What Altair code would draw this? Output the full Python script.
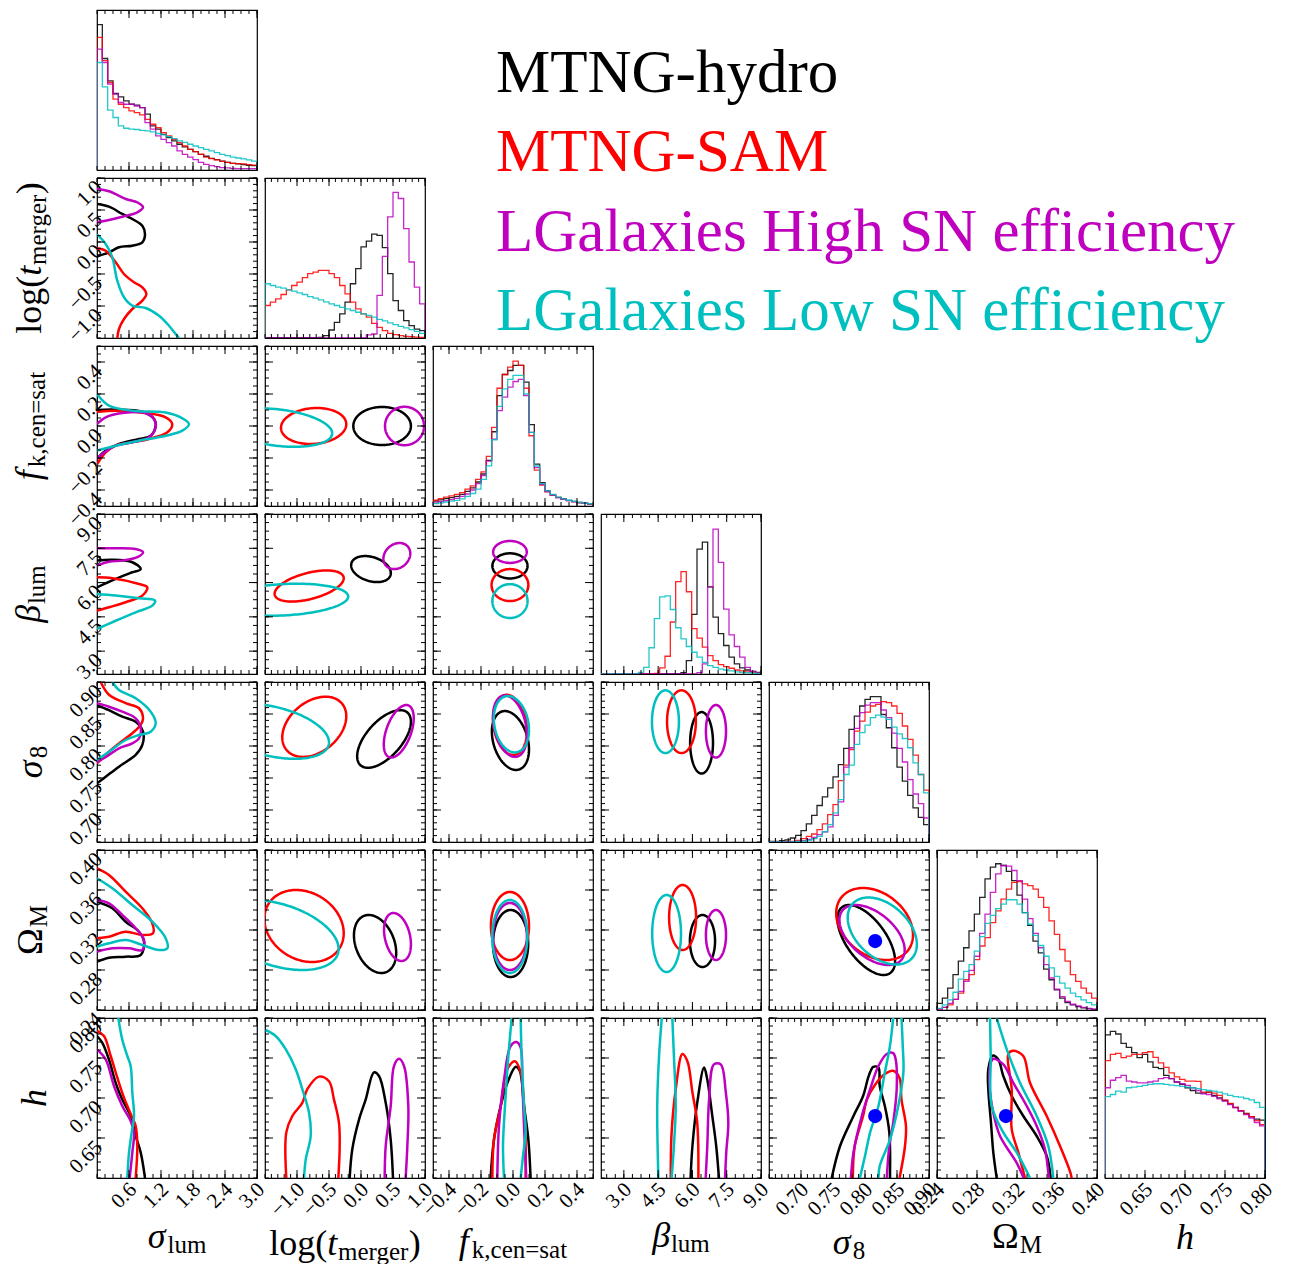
import numpy as np
import pandas as pd
import altair as alt

SERIF = "Liberation Serif"
SERIES = ["MTNG-hydro", "MTNG-SAM", "LGalaxies High SN efficiency", "LGalaxies Low SN efficiency"]
COLORS = ["#000000", "#ff0000", "#bf00bf", "#00bfbf"]

# parameter order: sigma_lum, log(t_merger), f_k,cen=sat, beta_lum, sigma_8, Omega_M, h
RANGES = [[0.0, 3.0], [-1.5, 1.0], [-0.5, 0.5], [2.0, 9.0], [0.65, 0.90], [0.24, 0.40], [0.60, 0.80]]
MAJOR = [[0.6, 1.2, 1.8, 2.4, 3.0], [-1.0, -0.5, 0.0, 0.5, 1.0], [-0.4, -0.2, 0.0, 0.2, 0.4],
         [3.0, 4.5, 6.0, 7.5, 9.0], [0.70, 0.75, 0.80, 0.85, 0.90], [0.24, 0.28, 0.32, 0.36, 0.40],
         [0.65, 0.70, 0.75, 0.80]]
MINOR_STEP = [0.15, 0.1, 0.05, 0.375, 0.01, 0.01, 0.01]
FMT = [".1f", ".1f", ".1f", ".1f", ".2f", ".2f", ".2f"]

TITLE_PIECES = [
    [("σ", "main", "italic"), ("lum", "sub", "normal")],
    [("log(", "main", "normal"), ("t", "main", "italic"), ("merger", "sub", "normal"), (")", "main", "normal")],
    [("f", "main", "italic"), ("k,cen=sat", "sub", "normal")],
    [("β", "main", "italic"), ("lum", "sub", "normal")],
    [("σ", "main", "italic"), ("8", "sub", "normal")],
    [("Ω", "main", "normal"), ("M", "sub", "normal")],
    [("h", "main", "italic")],
]

# ---- 1D marginal histograms (30 bins, height as fraction of panel) ----
# order of each list: MTNG-hydro, MTNG-SAM, LGalaxies High, LGalaxies Low
HIST_SIGMA_LUM = [
    [0.908, 0.697, 0.557, 0.478, 0.457, 0.432, 0.411, 0.405, 0.39, 0.349, 0.276, 0.255, 0.223, 0.203, 0.182, 0.161, 0.144, 0.129, 0.115, 0.098, 0.086, 0.073, 0.065, 0.056, 0.048, 0.042, 0.038, 0.033, 0.029, 0.027],
    [0.829, 0.683, 0.547, 0.443, 0.411, 0.39, 0.37, 0.359, 0.344, 0.317, 0.286, 0.265, 0.234, 0.213, 0.192, 0.171, 0.15, 0.129, 0.115, 0.098, 0.081, 0.071, 0.063, 0.054, 0.048, 0.042, 0.04, 0.038, 0.033, 0.031],
    [0.756, 0.672, 0.537, 0.474, 0.422, 0.411, 0.411, 0.4, 0.39, 0.296, 0.255, 0.213, 0.192, 0.171, 0.15, 0.119, 0.098, 0.081, 0.065, 0.048, 0.035, 0.027, 0.021, 0.015, 0.013, 0.01, 0.008, 0.008, 0.008, 0.008],
    [0.672, 0.52, 0.374, 0.328, 0.276, 0.261, 0.255, 0.253, 0.248, 0.244, 0.238, 0.228, 0.219, 0.209, 0.196, 0.182, 0.173, 0.161, 0.15, 0.14, 0.129, 0.119, 0.109, 0.098, 0.09, 0.081, 0.075, 0.069, 0.063, 0.056],
]
HIST_LOG_TMERGER = [
    [0.002, 0.002, 0.002, 0.002, 0.002, 0.002, 0.002, 0.002, 0.002, 0.002, 0.004, 0.015, 0.05, 0.098, 0.151, 0.224, 0.339, 0.433, 0.569, 0.605, 0.649, 0.642, 0.565, 0.402, 0.234, 0.172, 0.109, 0.077, 0.056, 0.046],
    [0.203, 0.224, 0.245, 0.272, 0.301, 0.328, 0.349, 0.377, 0.402, 0.412, 0.423, 0.423, 0.402, 0.377, 0.328, 0.276, 0.224, 0.182, 0.151, 0.13, 0.092, 0.067, 0.046, 0.029, 0.021, 0.015, 0.01, 0.008, 0.006, 0.004],
    [0.0, 0.0, 0.0, 0.0, 0.0, 0.0, 0.0, 0.0, 0.0, 0.0, 0.0, 0.0, 0.0, 0.0, 0.0, 0.0, 0.0, 0.0, 0.0, 0.02, 0.025, 0.266, 0.51, 0.757, 0.91, 0.872, 0.684, 0.475, 0.318, 0.213],
    [0.339, 0.328, 0.318, 0.312, 0.301, 0.293, 0.282, 0.272, 0.259, 0.249, 0.238, 0.226, 0.213, 0.203, 0.192, 0.182, 0.172, 0.161, 0.151, 0.141, 0.13, 0.117, 0.107, 0.094, 0.084, 0.073, 0.063, 0.052, 0.042, 0.029],
]
HIST_FK = [
    [0.03, 0.038, 0.046, 0.052, 0.06, 0.073, 0.092, 0.113, 0.15, 0.2, 0.285, 0.464, 0.69, 0.822, 0.847, 0.879, 0.879, 0.774, 0.508, 0.262, 0.146, 0.095, 0.07, 0.054, 0.044, 0.035, 0.028, 0.022, 0.018, 0.012],
    [0.036, 0.046, 0.056, 0.063, 0.073, 0.084, 0.105, 0.126, 0.167, 0.213, 0.31, 0.492, 0.736, 0.822, 0.868, 0.906, 0.879, 0.736, 0.439, 0.224, 0.13, 0.088, 0.067, 0.052, 0.042, 0.033, 0.027, 0.021, 0.017, 0.01],
    [0.02, 0.027, 0.033, 0.04, 0.048, 0.06, 0.075, 0.1, 0.14, 0.19, 0.28, 0.418, 0.596, 0.68, 0.743, 0.778, 0.791, 0.69, 0.46, 0.24, 0.136, 0.09, 0.068, 0.052, 0.042, 0.033, 0.027, 0.021, 0.017, 0.012],
    [0.015, 0.02, 0.025, 0.03, 0.035, 0.045, 0.06, 0.078, 0.105, 0.167, 0.251, 0.414, 0.623, 0.732, 0.791, 0.816, 0.816, 0.7, 0.46, 0.25, 0.14, 0.095, 0.072, 0.056, 0.045, 0.036, 0.029, 0.023, 0.018, 0.014],
]
HIST_BETA_LUM = [
    [0.0, 0.0, 0.0, 0.0, 0.0, 0.0, 0.0, 0.0, 0.0, 0.0, 0.0, 0.0, 0.0, 0.0, 0.0, 0.008, 0.084, 0.373, 0.78, 0.824, 0.545, 0.356, 0.252, 0.178, 0.105, 0.063, 0.038, 0.025, 0.017, 0.01],
    [0.0, 0.0, 0.0, 0.0, 0.0, 0.0, 0.0, 0.0, 0.0, 0.0, 0.004, 0.038, 0.111, 0.325, 0.577, 0.64, 0.514, 0.283, 0.224, 0.168, 0.115, 0.084, 0.059, 0.046, 0.036, 0.025, 0.019, 0.013, 0.01, 0.006],
    [0.0, 0.0, 0.0, 0.0, 0.0, 0.0, 0.0, 0.0, 0.0, 0.0, 0.0, 0.0, 0.0, 0.0, 0.0, 0.0, 0.0, 0.0, 0.008, 0.063, 0.545, 0.906, 0.698, 0.405, 0.245, 0.172, 0.105, 0.042, 0.017, 0.006],
    [0.0, 0.0, 0.0, 0.0, 0.0, 0.0, 0.0, 0.01, 0.042, 0.164, 0.346, 0.482, 0.488, 0.403, 0.289, 0.22, 0.172, 0.136, 0.105, 0.073, 0.052, 0.042, 0.031, 0.025, 0.019, 0.013, 0.01, 0.008, 0.006, 0.004],
]
HIST_SIGMA8 = [
    [0.004, 0.004, 0.008, 0.013, 0.025, 0.042, 0.071, 0.113, 0.167, 0.228, 0.282, 0.338, 0.407, 0.484, 0.585, 0.704, 0.787, 0.85, 0.891, 0.908, 0.908, 0.797, 0.714, 0.589, 0.468, 0.38, 0.292, 0.213, 0.154, 0.109],
    [0.0, 0.0, 0.0, 0.004, 0.004, 0.01, 0.021, 0.035, 0.05, 0.077, 0.113, 0.171, 0.234, 0.384, 0.48, 0.578, 0.693, 0.756, 0.812, 0.85, 0.86, 0.877, 0.871, 0.85, 0.804, 0.725, 0.641, 0.543, 0.422, 0.324],
    [0.0, 0.0, 0.0, 0.0, 0.0, 0.004, 0.008, 0.017, 0.029, 0.046, 0.063, 0.094, 0.167, 0.251, 0.468, 0.589, 0.71, 0.808, 0.855, 0.871, 0.871, 0.825, 0.777, 0.68, 0.585, 0.5, 0.39, 0.3, 0.24, 0.15],
    [0.0, 0.0, 0.0, 0.0, 0.0, 0.004, 0.006, 0.01, 0.021, 0.035, 0.063, 0.109, 0.182, 0.265, 0.422, 0.48, 0.61, 0.683, 0.731, 0.777, 0.793, 0.78, 0.766, 0.718, 0.676, 0.647, 0.589, 0.495, 0.422, 0.307],
]
HIST_OMEGA_M = [
    [0.042, 0.074, 0.137, 0.221, 0.305, 0.389, 0.494, 0.599, 0.704, 0.819, 0.893, 0.914, 0.903, 0.866, 0.809, 0.718, 0.609, 0.529, 0.431, 0.357, 0.256, 0.189, 0.126, 0.074, 0.046, 0.032, 0.021, 0.013, 0.008, 0.004],
    [0.006, 0.017, 0.032, 0.067, 0.105, 0.189, 0.221, 0.315, 0.4, 0.452, 0.546, 0.62, 0.693, 0.756, 0.798, 0.803, 0.788, 0.777, 0.756, 0.704, 0.641, 0.557, 0.473, 0.378, 0.305, 0.221, 0.179, 0.137, 0.105, 0.074],
    [0.004, 0.017, 0.042, 0.067, 0.116, 0.179, 0.248, 0.336, 0.479, 0.599, 0.735, 0.851, 0.903, 0.899, 0.872, 0.809, 0.693, 0.571, 0.479, 0.389, 0.284, 0.2, 0.13, 0.084, 0.053, 0.036, 0.025, 0.017, 0.01, 0.006],
    [0.01, 0.032, 0.063, 0.111, 0.193, 0.242, 0.284, 0.368, 0.458, 0.542, 0.592, 0.634, 0.662, 0.689, 0.689, 0.662, 0.609, 0.536, 0.466, 0.403, 0.336, 0.263, 0.21, 0.168, 0.137, 0.105, 0.084, 0.063, 0.046, 0.032],
]
HIST_H = [
    [0.895, 0.916, 0.9, 0.842, 0.817, 0.783, 0.752, 0.773, 0.726, 0.691, 0.684, 0.642, 0.621, 0.6, 0.585, 0.564, 0.547, 0.531, 0.531, 0.537, 0.516, 0.501, 0.484, 0.463, 0.442, 0.421, 0.404, 0.383, 0.368, 0.362],
    [0.733, 0.773, 0.779, 0.752, 0.762, 0.773, 0.773, 0.783, 0.789, 0.754, 0.72, 0.691, 0.657, 0.632, 0.617, 0.606, 0.606, 0.604, 0.537, 0.537, 0.531, 0.516, 0.488, 0.467, 0.442, 0.421, 0.4, 0.383, 0.358, 0.333],
    [0.564, 0.611, 0.627, 0.642, 0.606, 0.6, 0.594, 0.594, 0.6, 0.606, 0.621, 0.627, 0.621, 0.6, 0.589, 0.579, 0.564, 0.547, 0.526, 0.522, 0.51, 0.495, 0.48, 0.459, 0.438, 0.417, 0.396, 0.375, 0.347, 0.326],
    [0.509, 0.522, 0.543, 0.537, 0.564, 0.568, 0.573, 0.579, 0.585, 0.589, 0.589, 0.585, 0.581, 0.577, 0.573, 0.568, 0.564, 0.558, 0.552, 0.547, 0.543, 0.537, 0.526, 0.516, 0.509, 0.505, 0.497, 0.488, 0.472, 0.442],
]
HISTS = [HIST_SIGMA_LUM, HIST_LOG_TMERGER, HIST_FK, HIST_BETA_LUM, HIST_SIGMA8, HIST_OMEGA_M, HIST_H]

# ---- 2D contours that are close to ellipses: (row, col) -> per series [cx, cy, rx, ry, rho] ----
ELLIPSES = {
    (2, 1): [[0.33, 0.0, 0.45, 0.119, 0.0], [-0.74, 0.0, 0.51, 0.1125, 0.1], [0.68, 0.0, 0.305, 0.12, 0.0], [-1.3, -0.01, 0.85, 0.12, -0.3]],
    (3, 1): [[0.156, 6.59, 0.31, 0.57, -0.3], [-0.81, 5.85, 0.54, 0.68, 0.5], [0.56, 7.16, 0.21, 0.57, 0.2], [-1.2, 5.25, 1.0, 0.7, 0.2]],
    (3, 2): [[-0.019, 6.73, 0.11, 0.55, 0.0], [-0.019, 5.89, 0.115, 0.7, 0.0], [-0.019, 7.34, 0.105, 0.48, 0.0], [-0.019, 5.19, 0.11, 0.74, 0.0]],
    (4, 1): [[0.36, 0.811, 0.42, 0.045, 0.6], [-0.73, 0.83, 0.5, 0.047, 0.35], [0.59, 0.823, 0.234, 0.041, 0.5], [-1.4, 0.823, 0.9, 0.043, -0.4]],
    (4, 2): [[-0.016, 0.8086, 0.116, 0.046, -0.3], [-0.019, 0.833, 0.106, 0.047, -0.2], [-0.019, 0.831, 0.106, 0.048, -0.3], [-0.01, 0.834, 0.11, 0.044, -0.2]],
    (4, 3): [[6.40, 0.805, 0.5, 0.048, 0.0], [5.52, 0.838, 0.63, 0.049, 0.0], [7.03, 0.823, 0.44, 0.041, 0.0], [4.82, 0.838, 0.59, 0.049, 0.0]],
    (5, 1): [[0.22, 0.306, 0.33, 0.029, -0.3], [-0.89, 0.324, 0.62, 0.036, -0.2], [0.57, 0.313, 0.21, 0.024, -0.3], [-1.3, 0.315, 0.95, 0.035, -0.4]],
    (5, 2): [[-0.015, 0.3065, 0.11, 0.0335, 0.0], [-0.019, 0.324, 0.119, 0.034, 0.0], [-0.019, 0.3135, 0.106, 0.0335, 0.0], [-0.02, 0.3135, 0.11, 0.0365, 0.0]],
    (5, 3): [[6.44, 0.309, 0.55, 0.026, 0.0], [5.57, 0.3325, 0.59, 0.0325, 0.0], [7.03, 0.315, 0.44, 0.025, 0.0], [4.87, 0.3165, 0.63, 0.0385, 0.0]],
    (5, 4): [[0.802, 0.31, 0.045, 0.035, -0.6], [0.815, 0.326, 0.06, 0.036, -0.3], [0.811, 0.315, 0.051, 0.03, -0.5], [0.827, 0.319, 0.054, 0.0335, -0.4]],
}

# ---- 2D contours traced as open curves: (row, col) -> per series list of segments of [x, y] ----
CURVES = {
    (1, 0): [
        [[[0, 0.594], [0.225, 0.552], [0.474, 0.438], [0.694, 0.344], [0.85, 0.255], [0.9, 0.125], [0.85, -0.005], [0.662, -0.058], [0.412, -0.083], [0.225, -0.161], [0, -0.224]]],
        [[[0, -0.098], [0.163, -0.136], [0.35, -0.317], [0.506, -0.5], [0.694, -0.63], [0.85, -0.708], [0.925, -0.813], [0.85, -0.917], [0.662, -1.047], [0.506, -1.203], [0.412, -1.359], [0.38, -1.5]]],
        [[[0, 0.828], [0.225, 0.792], [0.54, 0.672], [0.756, 0.62], [0.863, 0.542], [0.756, 0.464], [0.474, 0.395], [0.225, 0.344], [0, 0.308]]],
        [[[0, 0.12], [0.163, -0.031], [0.287, -0.239], [0.38, -0.605], [0.506, -0.864], [0.662, -0.995], [0.913, -1.031], [1.163, -1.152], [1.35, -1.308], [1.475, -1.438], [1.54, -1.5]]],
    ],
    (2, 0): [
        [[[0, 0.1], [0.35, 0.102], [0.85, 0.089], [1.069, 0.044], [1.1, 0.002], [1.006, -0.061], [0.788, -0.081], [0.4125, -0.1125], [0.163, -0.154], [0, -0.206]]],
        [[[0, 0.089], [0.35, 0.096], [0.913, 0.081], [1.288, 0.054], [1.41, 0.0125], [1.32, -0.039], [0.975, -0.081], [0.662, -0.102], [0.35, -0.123], [0.163, -0.164], [0, -0.24]]],
        [[[0, 0.0125], [0.163, 0.054], [0.474, 0.081], [0.913, 0.081], [1.069, 0.044], [1.1, -0.008], [0.975, -0.071], [0.662, -0.102], [0.35, -0.123], [0.1, -0.175], [0, -0.206]]],
        [[[0, 0.2], [0.225, 0.127], [0.662, 0.096], [1.288, 0.085], [1.569, 0.054], [1.725, 0.0125], [1.6, -0.029], [1.288, -0.061], [0.788, -0.092], [0.35, -0.123], [0, -0.154]]],
    ],
    (3, 0): [
        [[[0, 6.96], [0.287, 7.0], [0.662, 6.89], [0.82, 6.59], [0.662, 6.45], [0.35, 6.16], [0, 5.79]]],
        [[[0, 6.23], [0.287, 6.19], [0.788, 5.94], [0.944, 5.79], [0.85, 5.43], [0.537, 5.14], [0.225, 4.92], [0, 4.77]]],
        [[[0, 7.5], [0.287, 7.5], [0.725, 7.47], [0.863, 7.33], [0.756, 7.11], [0.474, 6.96], [0.225, 6.91], [0, 6.74]]],
        [[[0, 5.5], [0.35, 5.43], [0.788, 5.31], [1.088, 5.21], [1.037, 4.99], [0.725, 4.7], [0.35, 4.33], [0, 3.97]]],
    ],
    (4, 0): [
        [[[0, 0.864], [0.225, 0.856], [0.474, 0.8458], [0.725, 0.838], [0.863, 0.8223], [0.85, 0.8016], [0.725, 0.786], [0.4125, 0.7677], [0.163, 0.752], [0, 0.7417]]],
        [[[0.069, 0.9], [0.225, 0.88], [0.537, 0.867], [0.788, 0.859], [0.863, 0.843], [0.819, 0.833], [0.662, 0.82], [0.4125, 0.804], [0.225, 0.791], [0, 0.773]]],
        [[[0, 0.8667], [0.225, 0.8614], [0.474, 0.8536], [0.725, 0.8433], [0.82, 0.8277], [0.788, 0.812], [0.662, 0.8042], [0.4125, 0.7964], [0.225, 0.786], [0, 0.7745]]],
        [[[0.287, 0.9], [0.4125, 0.8875], [0.725, 0.8745], [1.007, 0.8536], [1.1, 0.8355], [1.007, 0.8224], [0.788, 0.8172], [0.537, 0.8094], [0.225, 0.7911], [0, 0.7781]]],
    ],
    (5, 0): [
        [[[0, 0.3483], [0.287, 0.3417], [0.537, 0.3283], [0.788, 0.3183], [0.881, 0.3083], [0.82, 0.295], [0.537, 0.2933], [0.225, 0.2923], [0, 0.2883]]],
        [[[0, 0.3817], [0.225, 0.375], [0.537, 0.3583], [0.85, 0.3417], [1.037, 0.3267], [1.05, 0.3167], [0.85, 0.315], [0.537, 0.3183], [0.225, 0.3133], [0, 0.3117]]],
        [[[0, 0.35], [0.225, 0.3467], [0.474, 0.335], [0.725, 0.3217], [0.881, 0.31], [0.85, 0.3], [0.6, 0.3017], [0.287, 0.3017], [0, 0.2983]]],
        [[[0, 0.3717], [0.287, 0.3617], [0.662, 0.345], [1.037, 0.3283], [1.288, 0.3117], [1.319, 0.3017], [1.163, 0.3], [0.85, 0.305], [0.537, 0.31], [0.225, 0.3067], [0, 0.3033]]],
    ],
    (6, 0): [
        [[[0, 0.7775], [0.1, 0.769], [0.225, 0.748], [0.35, 0.719], [0.474, 0.698], [0.631, 0.6775], [0.725, 0.6525], [0.82, 0.6317], [0.9, 0.6]]],
        [[[0, 0.784], [0.131, 0.7775], [0.257, 0.7525], [0.381, 0.7254], [0.506, 0.7004], [0.662, 0.6754], [0.725, 0.665], [0.756, 0.64], [0.725, 0.6]]],
        [[[0, 0.7608], [0.163, 0.7483], [0.319, 0.715], [0.474, 0.69], [0.631, 0.6713], [0.694, 0.6567], [0.662, 0.6317], [0.613, 0.6]]],
        [[[0.4, 0.8], [0.474, 0.773], [0.569, 0.7525], [0.631, 0.74], [0.662, 0.7067], [0.694, 0.6775], [0.65, 0.6567], [0.6, 0.6317], [0.569, 0.6]]],
    ],
    (6, 1): [
        [[[-0.177, 0.6], [-0.136, 0.636], [-0.031, 0.673], [0.073, 0.698], [0.203, 0.732], [0.281, 0.7275], [0.386, 0.694], [0.464, 0.648], [0.5, 0.6]]],
        [[[-1.167, 0.6], [-1.167, 0.657], [-1.073, 0.6775], [-0.917, 0.694], [-0.839, 0.711], [-0.656, 0.7267], [-0.5, 0.721], [-0.422, 0.698], [-0.344, 0.669], [-0.333, 0.64], [-0.354, 0.6]]],
        [[[0.37, 0.6], [0.386, 0.64], [0.464, 0.69], [0.516, 0.74], [0.594, 0.749], [0.672, 0.74], [0.739, 0.69], [0.724, 0.64], [0.698, 0.6]]],
        [[[-1.489, 0.785], [-1.333, 0.7775], [-1.177, 0.761], [-1.02, 0.736], [-0.917, 0.711], [-0.8125, 0.6817], [-0.786, 0.6525], [-0.864, 0.623], [-0.89, 0.6]]],
    ],
    (6, 2): [
        [[[-0.14, 0.6], [-0.119, 0.648], [-0.077, 0.69], [-0.035, 0.719], [0.017, 0.739], [0.042, 0.734], [0.069, 0.69], [0.096, 0.648], [0.11, 0.6]]],
        [[[-0.129, 0.6], [-0.119, 0.648], [-0.077, 0.69], [-0.035, 0.736], [0.0125, 0.746], [0.048, 0.732], [0.069, 0.69], [0.079, 0.64], [0.079, 0.6]]],
        [[[-0.098, 0.6], [-0.0875, 0.665], [-0.056, 0.723], [-0.0146, 0.765], [0.021, 0.77], [0.048, 0.763], [0.058, 0.723], [0.069, 0.665], [0.083, 0.6]]],
        [[[-0.056, 0.6], [-0.0625, 0.64], [-0.05, 0.69], [-0.029, 0.7525], [-0.008, 0.8]],
         [[0.048, 0.8], [0.054, 0.7525], [0.069, 0.69], [0.079, 0.657], [0.0625, 0.6275], [0.048, 0.6]]],
    ],
    (6, 3): [
        [[[5.92, 0.6], [6.0, 0.64], [6.21, 0.694], [6.51, 0.738], [6.65, 0.723], [6.87, 0.6775], [7.04, 0.64], [7.16, 0.6]]],
        [[[5.05, 0.6], [5.09, 0.657], [5.27, 0.711], [5.56, 0.755], [5.78, 0.746], [6.0, 0.707], [6.21, 0.669], [6.26, 0.6]]],
        [[[6.58, 0.6], [6.65, 0.64], [6.73, 0.698], [6.94, 0.742], [7.24, 0.742], [7.46, 0.707], [7.57, 0.669], [7.48, 0.632], [7.43, 0.6]]],
        [[[4.51, 0.6], [4.46, 0.69], [4.54, 0.7525], [4.66, 0.8]],
         [[5.12, 0.8], [5.19, 0.7525], [5.27, 0.69], [5.19, 0.64], [5.09, 0.6]]],
    ],
    (6, 4): [
        [[[0.748, 0.6], [0.761, 0.64], [0.782, 0.6775], [0.797, 0.7025], [0.806, 0.728], [0.813, 0.739], [0.821, 0.738], [0.823, 0.715], [0.831, 0.69], [0.838, 0.657], [0.839, 0.6]]],
        [[[0.781, 0.6], [0.784, 0.64], [0.797, 0.6775], [0.803, 0.698], [0.816, 0.717], [0.831, 0.73], [0.844, 0.734], [0.854, 0.725], [0.857, 0.698], [0.864, 0.665], [0.8625, 0.64], [0.854, 0.6]]],
        [[[0.778, 0.6], [0.782, 0.632], [0.795, 0.6775], [0.808, 0.711], [0.821, 0.74], [0.834, 0.755], [0.844, 0.756], [0.848, 0.748], [0.8495, 0.711], [0.844, 0.669], [0.838, 0.64], [0.834, 0.6]]],
        [[[0.792, 0.6], [0.8, 0.6275], [0.808, 0.657], [0.821, 0.69], [0.831, 0.732], [0.839, 0.765], [0.844, 0.8]],
         [[0.857, 0.8], [0.859, 0.765], [0.86, 0.732], [0.852, 0.69], [0.839, 0.648], [0.823, 0.615], [0.821, 0.6]]],
    ],
    (6, 5): [
        [[[0.2997, 0.6], [0.2963, 0.632], [0.294, 0.669], [0.2913, 0.711], [0.2913, 0.736], [0.2957, 0.753], [0.3013, 0.748], [0.3063, 0.7275], [0.3147, 0.7025], [0.3263, 0.6775], [0.3397, 0.6525], [0.3497, 0.6275], [0.3537, 0.6]]],
        [[[0.328, 0.6], [0.3213, 0.632], [0.3147, 0.661], [0.3147, 0.711], [0.3113, 0.755], [0.3163, 0.759], [0.3263, 0.7525], [0.333, 0.719], [0.3497, 0.6775], [0.363, 0.64], [0.373, 0.6083], [0.3747, 0.6]]],
        [[[0.3267, 0.6], [0.3197, 0.619], [0.303, 0.6525], [0.2963, 0.6817], [0.2923, 0.719], [0.2937, 0.744], [0.2963, 0.749], [0.3063, 0.742], [0.3163, 0.719], [0.3297, 0.69], [0.3397, 0.665], [0.348, 0.636], [0.3513, 0.607], [0.352, 0.6]]],
        [[[0.333, 0.6], [0.3197, 0.632], [0.3063, 0.657], [0.2947, 0.69], [0.2937, 0.7525], [0.293, 0.8]],
         [[0.2997, 0.8], [0.3097, 0.761], [0.323, 0.719], [0.3397, 0.6775], [0.3513, 0.64], [0.3563, 0.6]]],
    ],
}

# fiducial cosmology marked by the blue dots
TRUTH = {4: 0.8159, 5: 0.3089, 6: 0.6774}

# ------------------------------------------------------------------ layout helpers
W = H = 160
MAIN_SIZE, SUB_SIZE, SUB_DROP = 36, 25, 5
X_TITLE_BASE = [230, 237, 235, 229, 236, 230, 231]
Y_TITLE_BASE = [-55, -56, -57, -57, -55, -55, -51]
LABEL_SIZE = 21
CHAR_W = {
    "normal": {"l": .278, "o": .5, "g": .5, "(": .333, ")": .333, "m": .778, "e": .444, "r": .333,
               "u": .5, "k": .5, ",": .25, "c": .444, "n": .5, "=": .564, "s": .389, "a": .444,
               "t": .278, "8": .5, "M": .889, "Ω": .77},
    "italic": {"σ": .55, "t": .3, "f": .36, "β": .52, "h": .5},
}
ONE = pd.DataFrame({"k": [0]})


def text_width(txt, style, size):
    return sum(CHAR_W[style].get(c, 0.5) for c in txt) * size


def x_enc(j, show):
    lo, hi = RANGES[j]
    axis = None
    if show:
        axis = alt.Axis(values=MAJOR[j], format=FMT[j], labelAngle=-45, labelAlign="right",
                        labelBaseline="middle", labelPadding=8, labelOffset=4, labelFlush=False,
                        labelOverlap=False, ticks=False, domain=False, grid=False, labelFont=SERIF,
                        labelFontSize=LABEL_SIZE, labelColor="black")
    return alt.X("x:Q", scale=alt.Scale(domain=[lo, hi], nice=False, zero=False), axis=axis, title=None)


def y_enc(i, show, diag):
    lo, hi = (0.0, 1.0) if diag else RANGES[i]
    axis = None
    if show:
        axis = alt.Axis(values=MAJOR[i], format=FMT[i], labelAngle=-45, labelAlign="right",
                        labelBaseline="top", labelPadding=6, labelOffset=-2, labelFlush=False,
                        labelOverlap=False, ticks=False, domain=False, grid=False, labelFont=SERIF,
                        labelFontSize=LABEL_SIZE, labelColor="black")
    return alt.Y("y:Q", scale=alt.Scale(domain=[lo, hi], nice=False, zero=False), axis=axis, title=None)


def minor_values(p):
    lo, hi = RANGES[p]
    step = MINOR_STEP[p]
    start = np.ceil(lo / step - 1e-6) * step
    return [round(v, 6) for v in np.arange(start, hi + step * 1e-3, step)]


def tick_layers(p, enc, axis_name):
    out = []
    for vals, L in ((MAJOR[p], 8), (minor_values(p), 4)):
        base = alt.Chart(pd.DataFrame({axis_name: vals})).mark_rule(color="black", strokeWidth=1)
        if axis_name == "x":
            out.append(base.encode(x=enc, y=alt.value(H), y2=alt.value(H - L)))
            out.append(base.encode(x=enc, y=alt.value(0), y2=alt.value(L)))
        else:
            out.append(base.encode(y=enc, x=alt.value(0), x2=alt.value(L)))
            out.append(base.encode(y=enc, x=alt.value(W), x2=alt.value(W - L)))
    return out


def title_layers(p, orient):
    pieces = TITLE_PIECES[p]
    widths = []
    for txt, kind, style in pieces:
        size = MAIN_SIZE if kind == "main" else SUB_SIZE
        widths.append(text_width(txt, style, size))
    total = sum(widths)
    out, cum = [], 0.0
    for (txt, kind, style), w in zip(pieces, widths):
        size = MAIN_SIZE if kind == "main" else SUB_SIZE
        drop = SUB_DROP if kind == "sub" else 0
        if orient == "x":
            px, py, ang = W / 2 - total / 2 + cum, X_TITLE_BASE[p] + drop, 0
        else:
            px, py, ang = Y_TITLE_BASE[p] + drop, H / 2 + total / 2 - cum, 270
        out.append(alt.Chart(ONE).mark_text(text=txt, font=SERIF, fontSize=size, fontStyle=style,
                                            align="left", baseline="alphabetic", angle=ang,
                                            color="black").encode(x=alt.value(px), y=alt.value(py)))
        cum += w
    return out


def hist_frame(p, s):
    lo, hi = RANGES[p]
    vals = HISTS[p][s]
    edges = np.linspace(lo, hi, len(vals) + 1)
    xs, ys = [edges[0]], [0.0]
    for k, v in enumerate(vals):
        xs += [edges[k], edges[k + 1]]
        ys += [v, v]
    xs.append(edges[-1])
    ys.append(0.0)
    return pd.DataFrame({"x": xs, "y": ys, "k": range(len(xs))})


def ellipse_frame(par):
    cx, cy, rx, ry, rho = par
    t = np.linspace(0, 2 * np.pi, 181)
    xs = cx + rx * np.cos(t)
    ys = cy + ry * (rho * np.cos(t) + np.sqrt(1 - rho ** 2) * np.sin(t))
    return pd.DataFrame({"x": xs, "y": ys, "k": range(len(t)), "seg": 0})


def curve_frame(segments):
    rows = []
    for si, seg in enumerate(segments):
        for k, (x, y) in enumerate(seg):
            rows.append({"x": x, "y": y, "k": k, "seg": si})
    return pd.DataFrame(rows)


def panel(i, j):
    diag = i == j
    X = x_enc(j, i == 6)
    Y = y_enc(i, (j == 0 and i > 0), diag)
    layers = []
    if diag:
        for s in range(4):
            layers.append(alt.Chart(hist_frame(i, s)).mark_line(
                color=COLORS[s], strokeWidth=1.3, opacity=0.85, clip=True
            ).encode(x=X, y=Y, order="k:Q"))
    else:
        for s in range(4):
            if (i, j) in ELLIPSES:
                df = ellipse_frame(ELLIPSES[(i, j)][s])
                interp = "linear"
            else:
                df = curve_frame(CURVES[(i, j)][s])
                interp = "catmull-rom"
            layers.append(alt.Chart(df).mark_line(
                color=COLORS[s], strokeWidth=2.5, clip=True, interpolate=interp
            ).encode(x=X, y=Y, order="k:Q", detail="seg:N"))
        if i in TRUTH and j in TRUTH:
            layers.append(alt.Chart(pd.DataFrame({"x": [TRUTH[j]], "y": [TRUTH[i]]})).mark_circle(
                size=200, color="#0000ff", opacity=1
            ).encode(x=X, y=Y))
    layers += tick_layers(j, X, "x")
    if not diag:
        layers += tick_layers(i, Y, "y")
    if i == 6:
        layers += title_layers(j, "x")
    if j == 0 and i > 0:
        layers += title_layers(i, "y")
    if i == 0 and j == 0:
        for s, name in enumerate(SERIES):
            layers.append(alt.Chart(ONE).mark_text(
                text=name, font=SERIF, fontSize=61, align="left", baseline="alphabetic",
                color=COLORS[s]
            ).encode(x=alt.value(399), y=alt.value(82 + 79.3 * s)))
    return alt.layer(*layers).properties(width=W, height=H)


def blank():
    return alt.Chart(ONE).mark_point(opacity=0, size=1).encode(
        x=alt.value(W / 2), y=alt.value(H / 2)
    ).properties(width=W, height=H, view=alt.ViewBackground(stroke="transparent"))


cells = []
for i in range(7):
    for j in range(7):
        cells.append(panel(i, j) if j <= i else blank())

chart = alt.concat(*cells, columns=7, spacing=8, bounds="flush").properties(
    padding={"left": 2, "top": 0, "right": 5, "bottom": 5}
).configure_view(stroke="black", strokeWidth=1.2)

chart.save("out.html", embed_options={"renderer": "svg", "actions": False})
